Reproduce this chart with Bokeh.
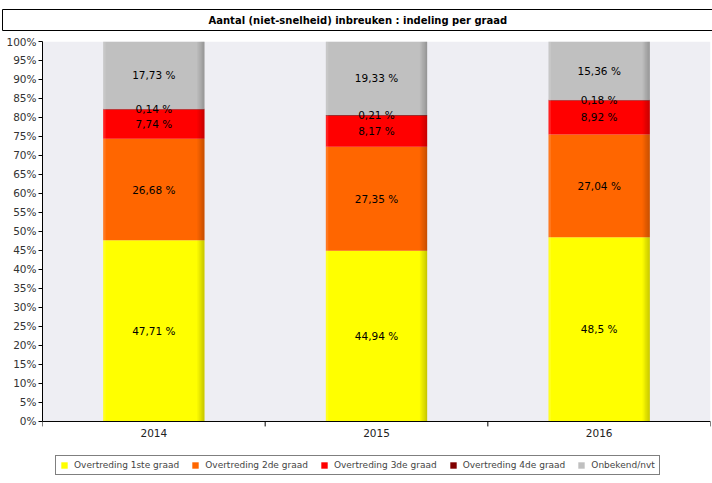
import numpy as np
from bokeh.plotting import figure
from bokeh.models import (Legend, LegendItem, FixedTicker, ColumnDataSource, Range1d,
                          BoxAnnotation, Span)
from bokeh.core.properties import value
from bokeh.embed import file_html
from bokeh.resources import INLINE

years = ["2014", "2015", "2016"]
series = ["Overtreding 1ste graad", "Overtreding 2de graad", "Overtreding 3de graad",
          "Overtreding 4de graad", "Onbekend/nvt"]
graad1 = [47.71, 44.94, 48.5]
graad2 = [26.68, 27.35, 27.04]
graad3 = [7.74, 8.17, 8.92]
graad4 = [0.14, 0.21, 0.18]
onbekend = [17.73, 19.33, 15.36]
colors = ["#FFFF00", "#FF6600", "#FF0000", "#800000", "#C0C0C0"]
y_ticks = list(range(0, 101, 5))
title_text = "Aantal (niet-snelheid) inbreuken : indeling per graad"

FONT = "DejaVu Sans"
keys = ["g1", "g2", "g3", "g4", "g5"]
vals = [graad1, graad2, graad3, graad4, onbekend]
xs = np.arange(len(years)) + 0.5
data = {"x": xs}
for k, v in zip(keys, vals):
    data[k] = v
src = ColumnDataSource(data)

# frame extends below 0 so that the legend can sit inside it (below the plot area)
p = figure(frame_width=668, frame_height=446, output_backend="svg", toolbar_location=None,
           x_range=Range1d(0, len(years)), y_range=Range1d(-17.37, 100),
           x_axis_location=None,
           min_border_left=42, min_border_right=2, min_border_top=37, min_border_bottom=0)
p.title.text = title_text
p.title.align = "left"
p.title.offset = -40
p.title.vertical_align = "top"
p.title.text_font = FONT
p.title.text_font_size = "10px"
p.title.text_font_style = "bold"
p.title.text_color = "black"
p.title.border_line_color = "black"
p.title.background_fill_color = "white"
p.title.padding = (206, 5)
p.title.standoff = 18
p.background_fill_color = "white"
p.border_fill_color = "white"
p.outline_line_color = None
p.grid.visible = False

# plot area background (only above the 0 line)
p.add_layout(BoxAnnotation(bottom=0, fill_color="#EEEEF3", fill_alpha=1.0,
                           line_color=None, level="underlay"))

bw = 0.455
rs = p.vbar_stack(keys, x="x", width=bw, source=src, color=colors, line_color=None)

# right-edge shading to imitate the 3D look
totals = np.sum(np.array(vals), axis=0)
nstrip = 6
sw = bw * 0.012
for k in range(nstrip):
    p.vbar(x=xs + bw / 2 - (k + 0.5) * sw, width=sw, top=totals, bottom=0,
           fill_color="black", fill_alpha=0.035 * (nstrip - k), line_color=None)
p.vbar(x=xs - bw / 2 + sw, width=2 * sw, top=totals, bottom=0,
       fill_color="white", fill_alpha=0.12, line_color=None)

# segment labels
bottoms = np.zeros(len(years))
for v in vals:
    arr = np.array(v)
    mids = bottoms + arr / 2
    labels = [("%g" % a).replace(".", ",") + " %" for a in arr]
    p.text(x=xs, y=mids, text=labels, text_align="center", text_baseline="middle",
           text_font=value(FONT), text_font_size="10.5px", text_color="black")
    bottoms = bottoms + arr

# y axis
p.yaxis.bounds = (0, 100)
p.yaxis.ticker = FixedTicker(ticks=y_ticks)
p.yaxis.major_label_overrides = {t: f"{t}%" for t in y_ticks}
p.yaxis.minor_tick_line_color = None
p.yaxis.major_tick_in = 0
p.yaxis.major_tick_out = 4
p.yaxis.major_label_standoff = 2
p.yaxis.axis_line_color = "black"
p.yaxis.major_tick_line_color = "black"
p.yaxis.major_label_text_font = FONT
p.yaxis.major_label_text_font_size = "10.5px"
p.yaxis.major_label_text_color = "#333333"

# x axis drawn at the 0 line: axis line, ticks at category borders, year labels
p.add_layout(Span(location=0, dimension="width", line_color="black", line_width=1))
edges = np.arange(len(years) + 1)
tick_len = 1.3
p.segment(x0=edges, y0=np.zeros(len(edges)), x1=edges, y1=np.full(len(edges), -tick_len),
          line_color="black", line_width=1)
p.text(x=xs, y=np.zeros(len(years)), text=years, y_offset=8,
       text_align="center", text_baseline="top",
       text_font=value(FONT), text_font_size="10.5px", text_color="#222222")

legend = Legend(items=[LegendItem(label=s, renderers=[r]) for s, r in zip(series, rs)],
                orientation="horizontal", location=(13, 12),
                border_line_color="black", border_line_width=1,
                background_fill_color="white", background_fill_alpha=1.0,
                label_text_font=FONT, label_text_font_size="9px",
                glyph_width=8, glyph_height=8, label_standoff=6, spacing=12,
                padding=4, margin=0, label_height=10)
p.add_layout(legend, "center")

open("out.html", "w").write(file_html(p, INLINE))
